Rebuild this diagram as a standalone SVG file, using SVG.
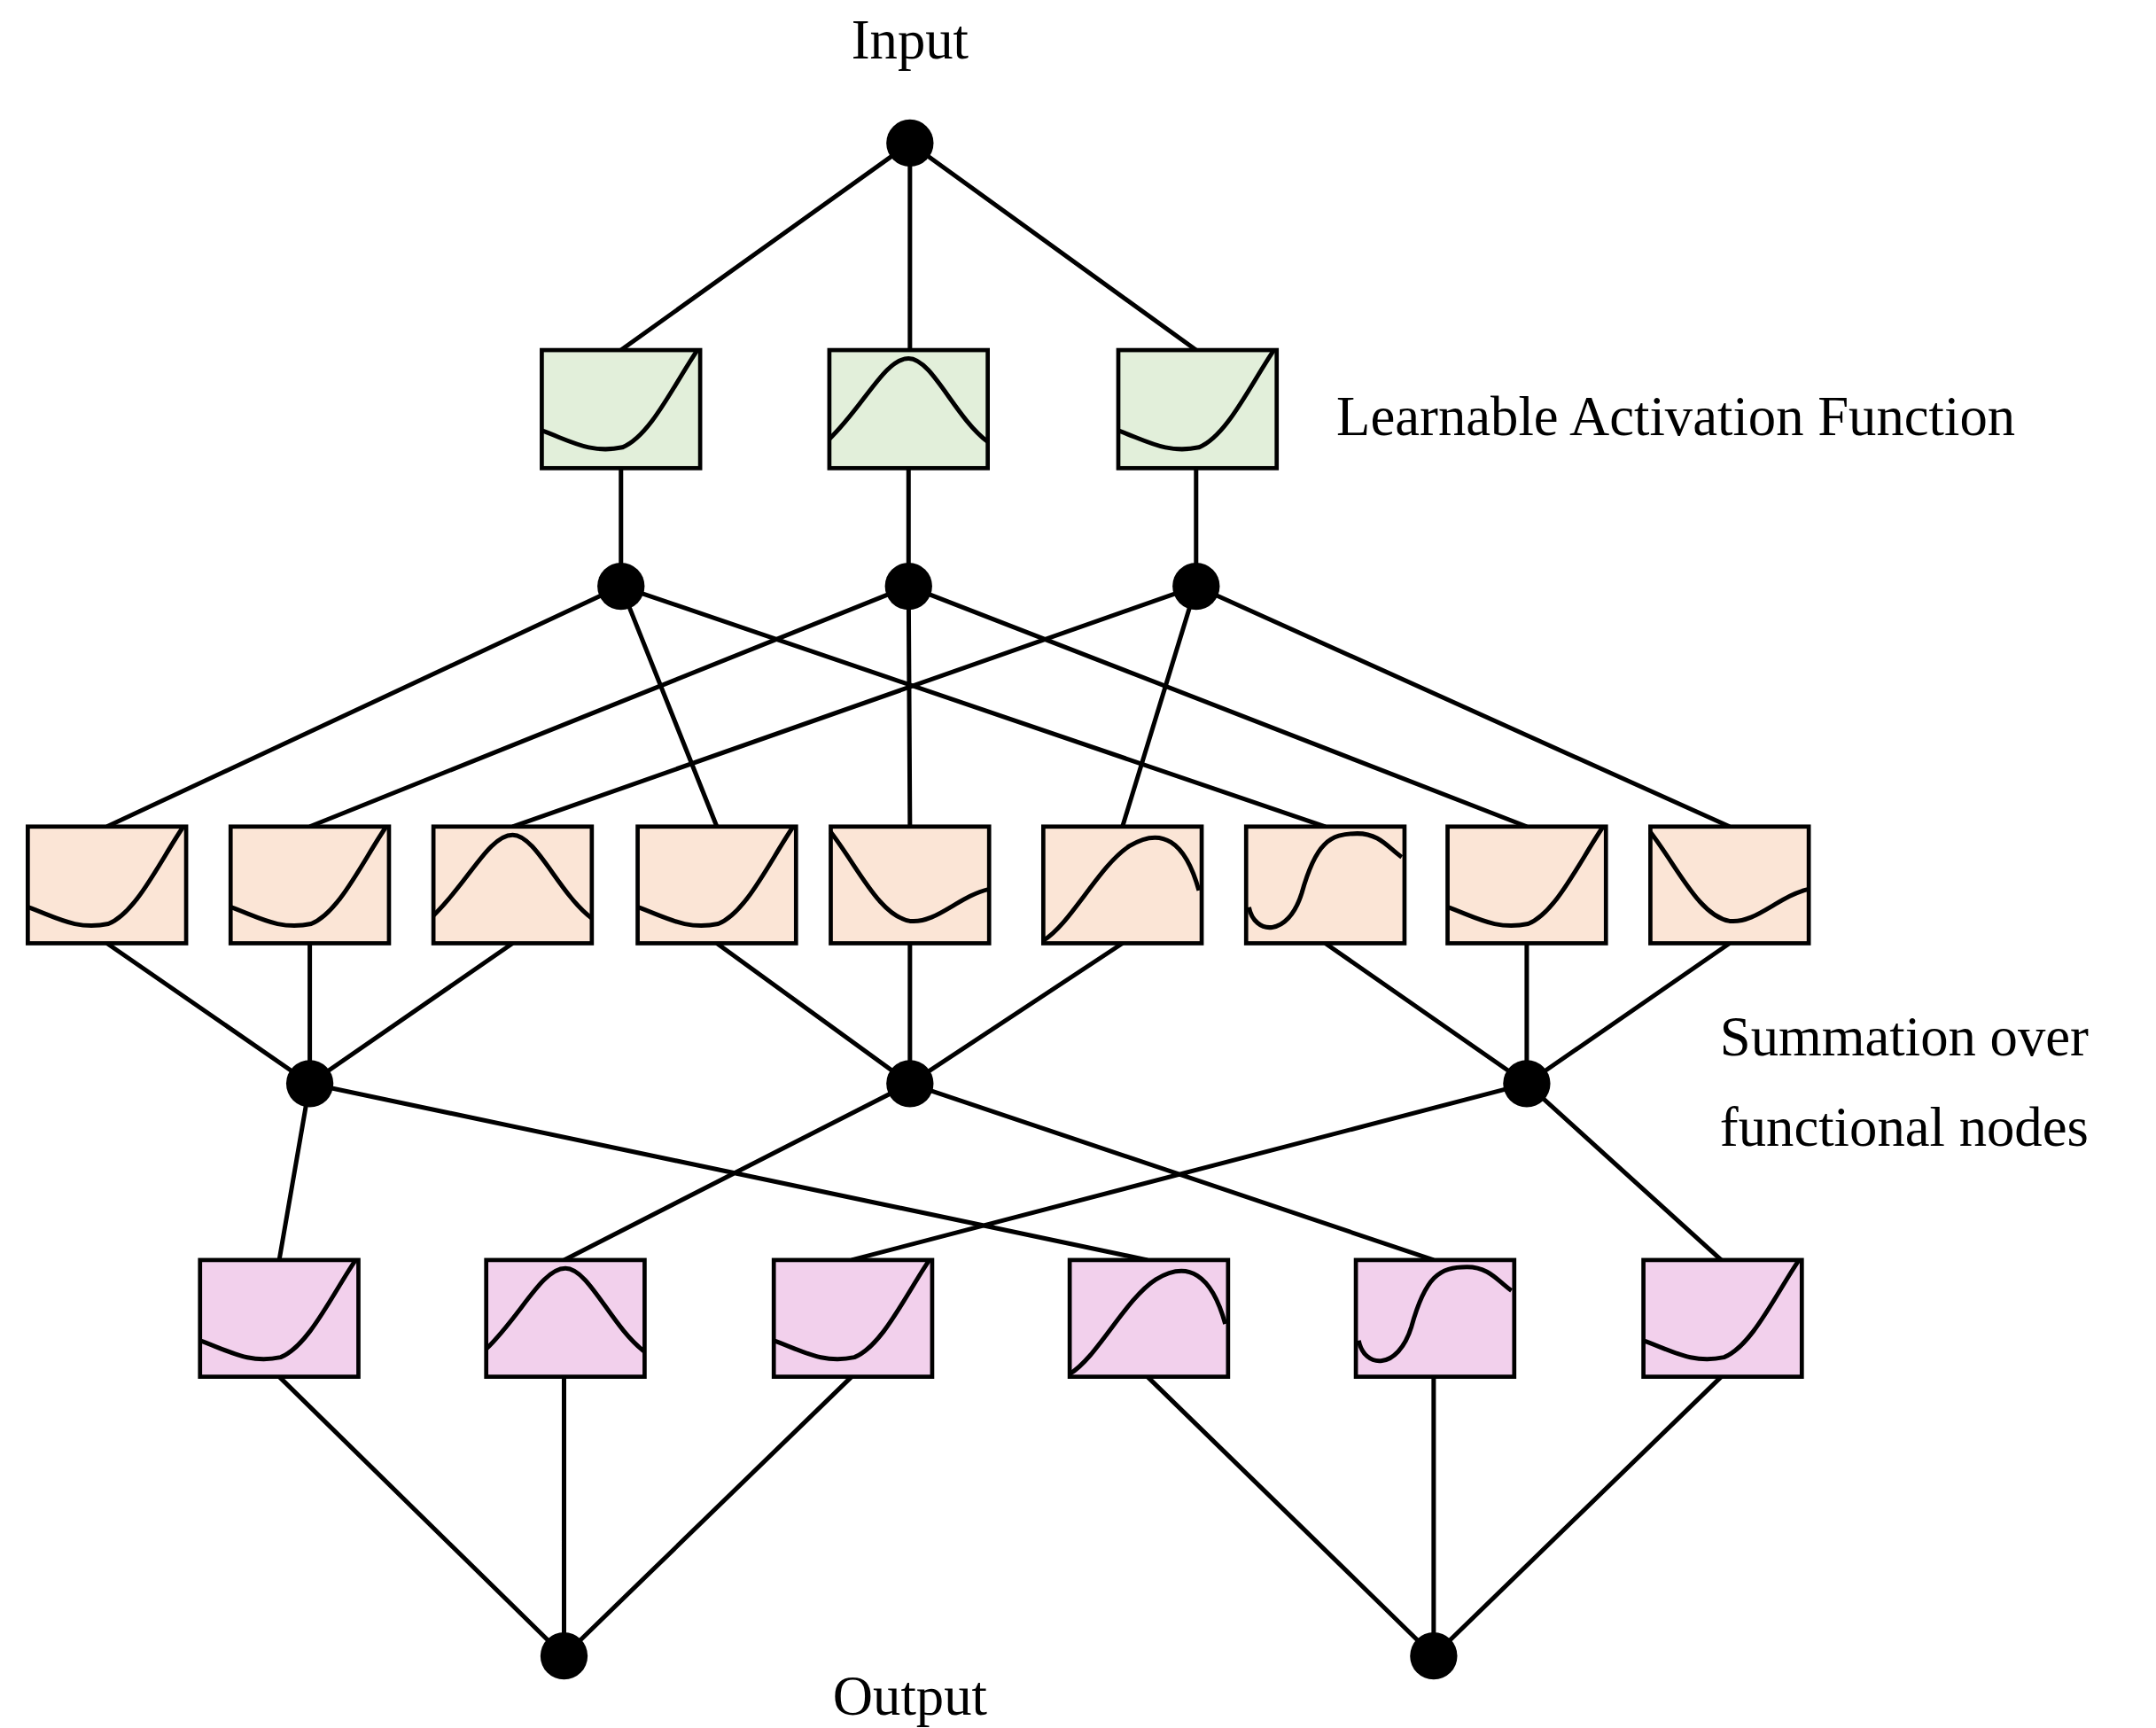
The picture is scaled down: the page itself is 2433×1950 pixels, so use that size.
<svg xmlns="http://www.w3.org/2000/svg" width="2433" height="1950" viewBox="0 0 2433 1950">
<style>
.e{stroke:#000;stroke-width:3.2;fill:none}
.c{stroke:#000;stroke-width:3.2;fill:none}
.g{fill:#e2efda;stroke:#000;stroke-width:3}
.o{fill:#fbe5d6;stroke:#000;stroke-width:3}
.p{fill:#f2d0ec;stroke:#000;stroke-width:3}
text{font-family:"Liberation Serif",serif;font-size:40px;fill:#000}
</style>
<defs>
<path id="rise" class="c" d="M0,58 C20,65 35,75 58,70 C78,62 95,25 112,0"/>
<path id="bell" class="c" d="M0,64 C25,40 40,6 57,6 C74,6 90,48 114,66"/>
<path id="valley" class="c" d="M0,4 C20,30 35,64 57,68 C76,70 92,50 114,45"/>
<path id="rp" class="c" d="M0,82 C20,70 40,28 62,14 C85,0 102,10 112,46"/>
<path id="sig" class="c" d="M2,58 C6,78 30,80 40,48 C50,12 60,5 80,5 C96,5 102,15 112,22"/>
</defs>
<g transform="scale(1.5677)">
<g id="connectors" class="e">
<path d="M655,103 L447,252 M655,103 L655,252 M655,103 L861,252"/>
<path d="M447,337 L447,422 M654,337 L654,422 M861,337 L861,422"/>
<path d="M447,422 L77,595 M447,422 L516,595 M447,422 L954,595"/>
<path d="M654,422 L223,595 M654,422 L655,595 M654,422 L1099,595"/>
<path d="M861,422 L369,595 M861,422 L808,595 M861,422 L1245,595"/>
<path d="M77,679 L223,780 M223,679 L223,780 M369,679 L223,780"/>
<path d="M516,679 L655,780 M655,679 L655,780 M808,679 L655,780"/>
<path d="M954,679 L1099,780 M1099,679 L1099,780 M1245,679 L1099,780"/>
<path d="M223,780 L201,907 M223,780 L826,907 M655,780 L406,907 M655,780 L1032,907 M1099,780 L613,907 M1099,780 L1239,907"/>
<path d="M201,991 L406,1192 M406,991 L406,1192 M613,991 L406,1192"/>
<path d="M826,991 L1032,1192 M1032,991 L1032,1192 M1239,991 L1032,1192"/>
</g>
<g id="n_in"><circle cx="655" cy="103" r="17"/></g>
<g id="g1"><rect class="g" x="390" y="252" width="114" height="85"/><use href="#rise" x="390" y="252"/></g>
<g id="g2"><rect class="g" x="597" y="252" width="114" height="85"/><use href="#bell" x="597" y="252"/></g>
<g id="g3"><rect class="g" x="805" y="252" width="114" height="85"/><use href="#rise" x="805" y="252"/></g>
<g id="h1"><circle cx="447" cy="422" r="17"/></g>
<g id="h2"><circle cx="654" cy="422" r="17"/></g>
<g id="h3"><circle cx="861" cy="422" r="17"/></g>
<g id="o1"><rect class="o" x="20" y="595" width="114" height="84"/><use href="#rise" x="20" y="595"/></g>
<g id="o2"><rect class="o" x="166" y="595" width="114" height="84"/><use href="#rise" x="166" y="595"/></g>
<g id="o3"><rect class="o" x="312" y="595" width="114" height="84"/><use href="#bell" x="312" y="595"/></g>
<g id="o4"><rect class="o" x="459" y="595" width="114" height="84"/><use href="#rise" x="459" y="595"/></g>
<g id="o5"><rect class="o" x="598" y="595" width="114" height="84"/><use href="#valley" x="598" y="595"/></g>
<g id="o6"><rect class="o" x="751" y="595" width="114" height="84"/><use href="#rp" x="751" y="595"/></g>
<g id="o7"><rect class="o" x="897" y="595" width="114" height="84"/><use href="#sig" x="897" y="595"/></g>
<g id="o8"><rect class="o" x="1042" y="595" width="114" height="84"/><use href="#rise" x="1042" y="595"/></g>
<g id="o9"><rect class="o" x="1188" y="595" width="114" height="84"/><use href="#valley" x="1188" y="595"/></g>
<g id="s1"><circle cx="223" cy="780" r="17"/></g>
<g id="s2"><circle cx="655" cy="780" r="17"/></g>
<g id="s3"><circle cx="1099" cy="780" r="17"/></g>
<g id="p1"><rect class="p" x="144" y="907" width="114" height="84"/><use href="#rise" x="144" y="907"/></g>
<g id="p2"><rect class="p" x="350" y="907" width="114" height="84"/><use href="#bell" x="350" y="907"/></g>
<g id="p3"><rect class="p" x="557" y="907" width="114" height="84"/><use href="#rise" x="557" y="907"/></g>
<g id="p4"><rect class="p" x="770" y="907" width="114" height="84"/><use href="#rp" x="770" y="907"/></g>
<g id="p5"><rect class="p" x="976" y="907" width="114" height="84"/><use href="#sig" x="976" y="907"/></g>
<g id="p6"><rect class="p" x="1183" y="907" width="114" height="84"/><use href="#rise" x="1183" y="907"/></g>
<g id="out1"><circle cx="406" cy="1192" r="17"/></g>
<g id="out2"><circle cx="1032" cy="1192" r="17"/></g>
<g id="labels">
<text x="655" y="42" text-anchor="middle">Input</text>
<text x="962" y="313">Learnable Activation Function</text>
<text x="1238" y="760">Summation over</text>
<text x="1238" y="825">functional nodes</text>
<text x="655" y="1234" text-anchor="middle">Output</text>
</g>
</g>
</svg>
